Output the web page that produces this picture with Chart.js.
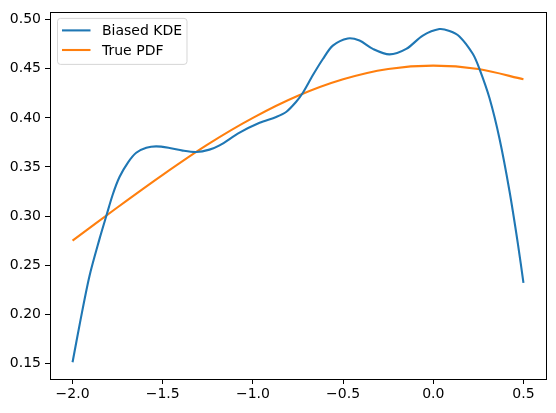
<!DOCTYPE html>
<html>
<head>
<meta charset="utf-8">
<script src="https://cdn.jsdelivr.net/npm/chart.js@4/dist/chart.umd.min.js"></script>
<style>
  body { margin: 0; background: #fff; }
  canvas { display: block; }
</style>
</head>
<body>
<canvas id="chart" width="556" height="413"></canvas>
<script>
// values
const kdeX = [-2.0, -1.956, -1.906, -1.85, -1.813, -1.777, -1.739, -1.693, -1.647, -1.591,
  -1.536, -1.462, -1.389, -1.314, -1.241, -1.185, -1.074, -0.963, -0.871, -0.816,
  -0.76, -0.723, -0.668, -0.612, -0.557, -0.474, -0.409, -0.335, -0.243, -0.15,
  -0.058, 0.034, 0.09, 0.145, 0.219, 0.256, 0.312, 0.367, 0.422, 0.469, 0.5];
const kdeY = [0.151, 0.194, 0.239, 0.277, 0.300, 0.322, 0.340, 0.3545, 0.3645, 0.3695,
  0.371, 0.3694, 0.3667, 0.3653, 0.3677, 0.372, 0.385, 0.395, 0.401, 0.406,
  0.4165, 0.4256, 0.4434, 0.460, 0.4737, 0.481, 0.4788, 0.4703, 0.4647, 0.4703,
  0.4838, 0.4905, 0.4885, 0.483, 0.4653, 0.450, 0.420, 0.379, 0.326, 0.272, 0.232];

const pdfX = [-2.0, -1.75, -1.5, -1.25, -1.0, -0.75, -0.5, -0.25, 0.0, 0.25, 0.5];
const pdfY = [0.275, 0.309, 0.342, 0.373, 0.400, 0.4225, 0.4393, 0.4498, 0.4533, 0.4498, 0.4393];

const seriesNames = ["Biased KDE", "True PDF"];
const seriesColors = ["#1f77b4", "#ff7f0e"];

const xTicks = [-2.0, -1.5, -1.0, -0.5, 0.0, 0.5];
const yTicks = [0.15, 0.20, 0.25, 0.30, 0.35, 0.40, 0.45, 0.50];

const FONT = "'DejaVu Sans', sans-serif";

function toPoints(xs, ys) {
  return xs.map((x, i) => ({ x: x, y: ys[i] }));
}

function minusSign(text) {
  return text.replace("-", "\u2212");
}

// bare axes on the top and right, only to draw the spines there
function spineAxis(position) {
  return {
    type: "linear",
    position: position,
    ticks: { display: false },
    grid: { display: false, drawTicks: false },
    border: { display: true, color: "#000", width: 1 },
    afterFit: (axis) => {
      if (position === "top") axis.height = 0;
      else axis.width = 0;
    },
  };
}

// legend in the upper left corner of the axes
const legendPlugin = {
  id: "boxLegend",
  afterDraw(chart) {
    const { ctx, chartArea } = chart;
    const x0 = chartArea.left + 7.5;
    const y0 = chartArea.top + 6;
    const w = 129.5;
    const h = 46;
    ctx.save();
    ctx.beginPath();
    ctx.roundRect(x0, y0, w, h, 3);
    ctx.fillStyle = "rgba(255,255,255,0.8)";
    ctx.fill();
    ctx.strokeStyle = "rgba(204,204,204,0.8)";
    ctx.lineWidth = 1;
    ctx.stroke();

    ctx.font = "14px " + FONT;
    ctx.textBaseline = "middle";
    chart.data.datasets.forEach((ds, i) => {
      const rowY = y0 + 12 + i * 19.6;
      ctx.beginPath();
      ctx.moveTo(x0 + 4.5, rowY);
      ctx.lineTo(x0 + 33, rowY);
      ctx.strokeStyle = ds.borderColor;
      ctx.lineWidth = 2.1;
      ctx.stroke();
      ctx.fillStyle = "#000";
      ctx.fillText(ds.label, x0 + 44.5, rowY + 1);
    });
    ctx.restore();
  },
};

new Chart(document.getElementById("chart"), {
  type: "line",
  data: {
    datasets: [
      {
        label: seriesNames[0],
        data: toPoints(kdeX, kdeY),
        borderColor: seriesColors[0],
        borderWidth: 2.1,
        pointRadius: 0,
        tension: 0.3,
        fill: false,
      },
      {
        label: seriesNames[1],
        data: toPoints(pdfX, pdfY),
        borderColor: seriesColors[1],
        borderWidth: 2.1,
        pointRadius: 0,
        tension: 0.3,
        fill: false,
      },
    ],
  },
  options: {
    responsive: false,
    animation: false,
    layout: { padding: { top: 11, right: 10, left: 0, bottom: 0 } },
    plugins: {
      legend: { display: false },
      tooltip: { enabled: false },
    },
    scales: {
      x: {
        type: "linear",
        position: "bottom",
        min: -2.125,
        max: 0.625,
        afterBuildTicks: (axis) => {
          axis.ticks = xTicks.map((v) => ({ value: v }));
        },
        afterFit: (axis) => {
          axis.height = 34;
        },
        ticks: {
          color: "#000",
          font: { family: FONT, size: 14 },
          padding: 2,
          maxRotation: 0,
          callback: (v) => minusSign(Number(v).toFixed(1)),
        },
        grid: {
          drawOnChartArea: false,
          tickLength: 5,
          color: "#000",
        },
        border: { color: "#000", width: 1 },
      },
      y: {
        type: "linear",
        position: "left",
        min: 0.134,
        max: 0.5075,
        afterBuildTicks: (axis) => {
          axis.ticks = yTicks.map((v) => ({ value: v }));
        },
        afterFit: (axis) => {
          axis.width = 50;
        },
        ticks: {
          color: "#000",
          font: { family: FONT, size: 14 },
          padding: 4,
          callback: (v) => Number(v).toFixed(2),
        },
        grid: {
          drawOnChartArea: false,
          tickLength: 5,
          color: "#000",
        },
        border: { color: "#000", width: 1 },
      },
      xTop: spineAxis("top"),
      yRight: spineAxis("right"),
    },
  },
  plugins: [legendPlugin],
});
</script>
</body>
</html>
